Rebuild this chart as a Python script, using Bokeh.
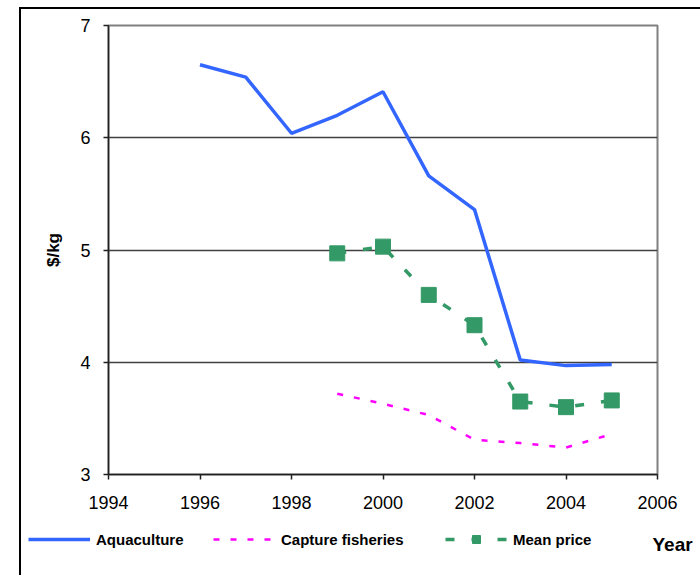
from bokeh.plotting import figure
from bokeh.layouts import column
from bokeh.models import Range1d, FixedTicker, Legend, LegendItem, Label
from bokeh.embed import file_html
from bokeh.resources import INLINE

# ---- data ----
aqua_years = [1996, 1997, 1998, 1999, 2000, 2001, 2002, 2003, 2004, 2005]
aqua_price = [6.65, 6.54, 6.04, 6.20, 6.41, 5.66, 5.36, 4.02, 3.97, 3.98]

capt_years = [1999, 2000, 2001, 2002, 2003, 2004, 2005]
capt_price = [3.72, 3.63, 3.53, 3.31, 3.28, 3.24, 3.36]

mean_years = [1999, 2000, 2001, 2002, 2003, 2004, 2005]
mean_price = [4.97, 5.03, 4.60, 4.33, 3.65, 3.60, 3.66]

x_ticks = [1994, 1996, 1998, 2000, 2002, 2004, 2006]
y_ticks = [3, 4, 5, 6, 7]

series_names = ["Aquaculture", "Capture fisheries", "Mean price"]
x_title = "Year"
y_title = "$/kg"

FONT = "Liberation Sans"
BLUE = "#3366FF"
PINK = "#FF00FF"
GREEN = "#339966"

# ---------------- main chart ----------------
p = figure(width=700, height=514, output_backend="svg", toolbar_location=None,
           x_range=Range1d(1994, 2006), y_range=Range1d(3, 7),
           min_border_left=108, min_border_right=43,
           min_border_top=25, min_border_bottom=40)

p.background_fill_color = "white"
p.border_fill_alpha = 0
p.outline_line_color = "#808080"
p.outline_line_width = 2

p.xgrid.visible = False
p.ygrid.ticker = FixedTicker(ticks=y_ticks)
p.ygrid.grid_line_color = "#404040"
p.ygrid.grid_line_width = 1.5

p.xaxis.ticker = FixedTicker(ticks=x_ticks)
p.yaxis.ticker = FixedTicker(ticks=y_ticks)
for ax in (p.xaxis[0], p.yaxis[0]):
    ax.axis_line_color = "#202020"
    ax.axis_line_width = 1.5
    ax.major_tick_line_color = "#202020"
    ax.major_tick_line_width = 1.5
    ax.major_tick_out = 5
    ax.major_tick_in = 0
    ax.minor_tick_line_color = None
    ax.major_label_text_font = FONT
    ax.major_label_text_font_size = "18px"
    ax.major_label_text_color = "black"
p.yaxis.major_label_standoff = 13
p.xaxis.major_label_standoff = 16

p.yaxis.axis_label = y_title
p.yaxis.axis_label_text_font = FONT
p.yaxis.axis_label_text_font_style = "bold"
p.yaxis.axis_label_text_font_size = "17px"
p.yaxis.axis_label_text_color = "black"
p.yaxis.axis_label_standoff = 14

AQUA_STYLE = dict(line_color=BLUE, line_width=3.5)
CAPT_STYLE = dict(line_color=PINK, line_width=2.5, line_dash="6 11")
MEAN_LINE = dict(line_color=GREEN, line_width=3.5, line_dash="9 17")
MEAN_MARK = dict(marker="square", size=15, fill_color=GREEN, line_color=GREEN)

p.line(aqua_years, aqua_price, **AQUA_STYLE)
p.line(capt_years, capt_price, **CAPT_STYLE)
p.line(mean_years, mean_price, **MEAN_LINE)
p.scatter(mean_years, mean_price, **MEAN_MARK)

# ---------------- legend strip ----------------
q = figure(width=700, height=61, output_backend="svg", toolbar_location=None,
           x_range=Range1d(0, 1), y_range=Range1d(0, 1),
           x_axis_type=None, y_axis_type=None,
           min_border_left=0, min_border_right=0,
           min_border_top=0, min_border_bottom=0)
if "frame_align" in q.properties():
    q.frame_align = False
    p.frame_align = False
q.outline_line_color = None
q.background_fill_alpha = 0
q.border_fill_alpha = 0
q.grid.visible = False

# legend sample renderers: same series, lying outside this strip's ranges
la = q.line(aqua_years, aqua_price, **AQUA_STYLE)
lc = q.line(capt_years, capt_price, **CAPT_STYLE)
lm1 = q.line(mean_years, mean_price, **MEAN_LINE)
lm2 = q.scatter(mean_years, mean_price, **MEAN_MARK)

legend_x = [28, 213, 445]
for name, rends, lx in zip(series_names, [[la], [lc], [lm1, lm2]], legend_x):
    lg = Legend(items=[LegendItem(label=name, renderers=rends)],
                location=(lx, 26), orientation="horizontal")
    lg.border_line_color = None
    lg.background_fill_alpha = 0
    lg.padding = 0
    lg.margin = 0
    lg.glyph_width = 62
    lg.glyph_height = 20
    lg.label_height = 20
    lg.label_standoff = 6
    lg.label_text_font = FONT
    lg.label_text_font_style = "bold"
    lg.label_text_font_size = "15px"
    lg.label_text_color = "black"
    q.add_layout(lg, "center")

year = Label(x=652, y=31, x_units="screen", y_units="screen", text=x_title,
             text_font=FONT, text_font_style="bold", text_font_size="19px",
             text_color="black", text_baseline="alphabetic")
q.add_layout(year)

layout = column(p, q, spacing=0, styles={
    "background": "linear-gradient(#000, #000) 19px 7px / 2px 100% no-repeat, "
                  "linear-gradient(#000, #000) 19px 7px / 100% 2px no-repeat, #fff"
})

open("out.html", "w").write(file_html(layout, INLINE))
